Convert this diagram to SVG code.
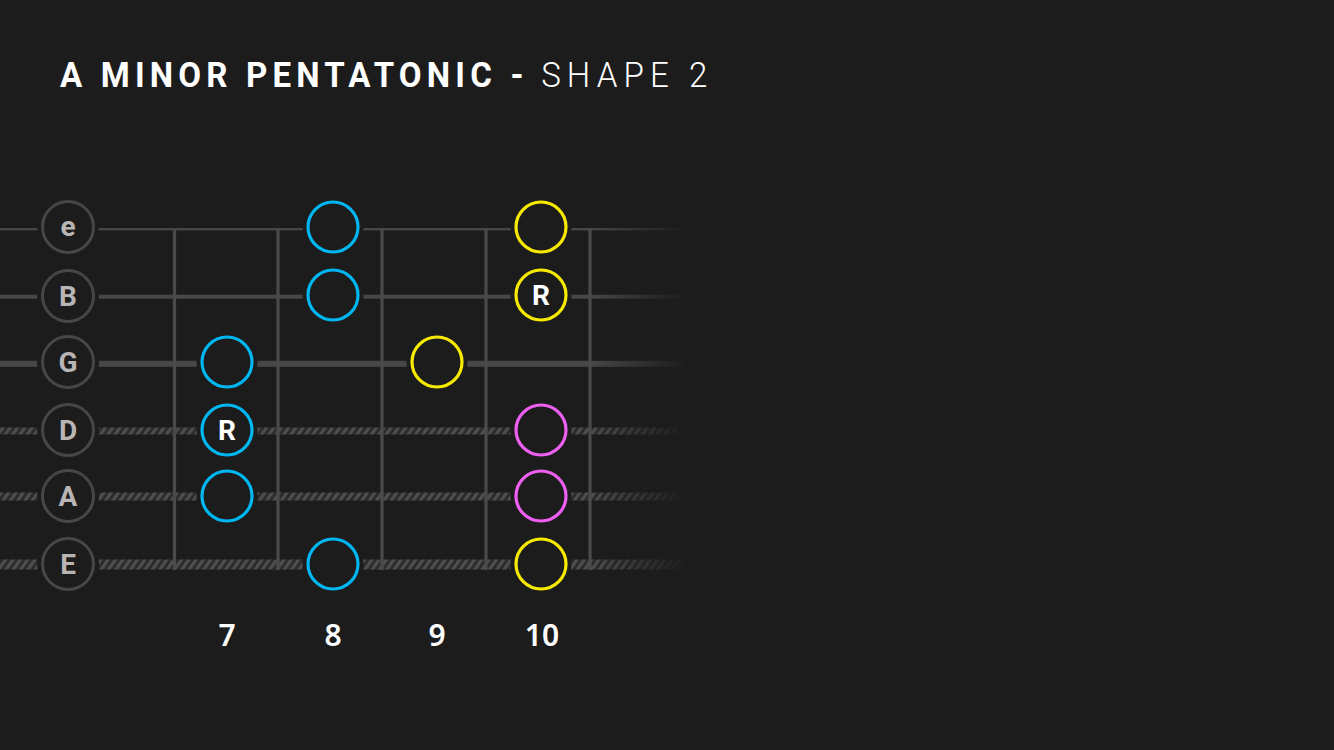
<svg xmlns="http://www.w3.org/2000/svg" width="1334" height="750" viewBox="0 0 1334 750">
<defs>
<pattern id="wound" patternUnits="userSpaceOnUse" width="6" height="6" patternTransform="rotate(35)">
<rect width="6" height="6" fill="#2a2a2a"/>
<rect width="3.2" height="6" fill="#4e4e4e"/>
</pattern>
<linearGradient id="fadeG" gradientUnits="userSpaceOnUse" x1="590" y1="0" x2="688" y2="0">
<stop offset="0" stop-color="#fff"/>
<stop offset="1" stop-color="#000"/>
</linearGradient>
<mask id="fade" maskUnits="userSpaceOnUse" x="0" y="0" width="1334" height="750">
<rect x="0" y="0" width="1334" height="750" fill="url(#fadeG)"/>
</mask>
<style>
.plain{fill:#474747}
.wound{fill:url(#wound)}
.fret{stroke:#4a4a4a;stroke-width:3.2;fill:none}
.hole{fill:#1c1c1c}
.lab{fill:#1c1c1c;stroke:#474747;stroke-width:3}
.labt{font-family:Roboto,"Noto Sans","Liberation Sans",sans-serif;font-weight:700;font-size:28px;fill:#b9b5b5;text-anchor:middle}
.note{fill:#1c1c1c;stroke-width:3.2}
.blue{stroke:#00b6f1}
.yel{stroke:#f7ea00}
.pink{stroke:#ec5ff0}
.rt{font-family:Roboto,"Noto Sans","Liberation Sans",sans-serif;font-weight:700;font-size:28px;fill:#ffffff;text-anchor:middle}
.num{font-family:"Noto Sans","Open Sans",sans-serif;font-weight:600;font-size:30px;fill:#ffffff;text-anchor:middle}
.t1{font-family:Roboto,"Liberation Sans",sans-serif;font-size:36px;fill:#ffffff;font-weight:700;letter-spacing:5.6px}
.t2{font-family:Roboto,"Liberation Sans",sans-serif;font-size:36px;fill:#ffffff;font-weight:300;letter-spacing:6.6px}
</style>
</defs>
<rect x="0" y="0" width="1334" height="750" fill="#1c1c1c"/>
<g id="title" transform="translate(60,87) scale(0.92,1)">
<text class="t1" x="0" y="0">A MINOR PENTATONIC -</text>
<text class="t2" x="523" y="0">SHAPE 2</text>
</g>
<g id="connectors">
<g id="strings" mask="url(#fade)">
<rect class="plain" x="0" y="228" width="690" height="2.4"/>
<rect class="plain" x="0" y="294.7" width="690" height="4"/>
<rect class="plain" x="0" y="360.8" width="690" height="6"/>
<rect class="wound" x="0" y="427.5" width="690" height="7"/>
<rect class="wound" x="0" y="492.5" width="690" height="8"/>
<rect class="wound" x="0" y="559.5" width="690" height="10"/>
</g>
<g id="frets">
<line class="fret" x1="174.5" y1="229" x2="174.5" y2="570"/>
<line class="fret" x1="278" y1="229" x2="278" y2="570"/>
<line class="fret" x1="382" y1="229" x2="382" y2="570"/>
<line class="fret" x1="486" y1="229" x2="486" y2="570"/>
<line class="fret" x1="590" y1="229" x2="590" y2="570"/>
</g>
</g>
<g id="string-labels">
<g id="label-e"><circle class="hole" cx="68" cy="227" r="31"/><circle class="lab" cx="68" cy="227" r="25.5"/><text class="labt" x="68" y="236">e</text></g>
<g id="label-B"><circle class="hole" cx="68" cy="296" r="31"/><circle class="lab" cx="68" cy="296" r="25.5"/><text class="labt" x="68" y="306">B</text></g>
<g id="label-G"><circle class="hole" cx="68" cy="362" r="31"/><circle class="lab" cx="68" cy="362" r="25.5"/><text class="labt" x="68" y="372">G</text></g>
<g id="label-D"><circle class="hole" cx="68" cy="430" r="31"/><circle class="lab" cx="68" cy="430" r="25.5"/><text class="labt" x="68" y="440">D</text></g>
<g id="label-A"><circle class="hole" cx="68" cy="496" r="31"/><circle class="lab" cx="68" cy="496" r="25.5"/><text class="labt" x="68" y="506">A</text></g>
<g id="label-E"><circle class="hole" cx="68" cy="564" r="31"/><circle class="lab" cx="68" cy="564" r="25.5"/><text class="labt" x="68" y="574">E</text></g>
</g>
<g id="notes">
<g id="n-e8"><circle class="hole" cx="333" cy="227" r="30.5"/><circle class="note blue" cx="333" cy="227" r="25"/></g>
<g id="n-e10"><circle class="hole" cx="541" cy="227" r="30.5"/><circle class="note yel" cx="541" cy="227" r="25"/></g>
<g id="n-B8"><circle class="hole" cx="333" cy="295" r="30.5"/><circle class="note blue" cx="333" cy="295" r="25"/></g>
<g id="n-B10"><circle class="hole" cx="541" cy="295" r="30.5"/><circle class="note yel" cx="541" cy="295" r="25"/><text class="rt" x="541" y="305">R</text></g>
<g id="n-G7"><circle class="hole" cx="227" cy="362" r="30.5"/><circle class="note blue" cx="227" cy="362" r="25"/></g>
<g id="n-G9"><circle class="hole" cx="437" cy="362" r="30.5"/><circle class="note yel" cx="437" cy="362" r="25"/></g>
<g id="n-D7"><circle class="hole" cx="227" cy="430" r="30.5"/><circle class="note blue" cx="227" cy="430" r="25"/><text class="rt" x="227" y="440">R</text></g>
<g id="n-D10"><circle class="hole" cx="541" cy="430" r="30.5"/><circle class="note pink" cx="541" cy="430" r="25"/></g>
<g id="n-A7"><circle class="hole" cx="227" cy="496" r="30.5"/><circle class="note blue" cx="227" cy="496" r="25"/></g>
<g id="n-A10"><circle class="hole" cx="541" cy="496" r="30.5"/><circle class="note pink" cx="541" cy="496" r="25"/></g>
<g id="n-E8"><circle class="hole" cx="333" cy="564" r="30.5"/><circle class="note blue" cx="333" cy="564" r="25"/></g>
<g id="n-E10"><circle class="hole" cx="541" cy="564" r="30.5"/><circle class="note yel" cx="541" cy="564" r="25"/></g>
</g>
<g id="fret-numbers">
<text class="num" x="227" y="646">7</text>
<text class="num" x="333" y="646">8</text>
<text class="num" x="437" y="646">9</text>
<text class="num" x="542" y="646">10</text>
</g>
</svg>
